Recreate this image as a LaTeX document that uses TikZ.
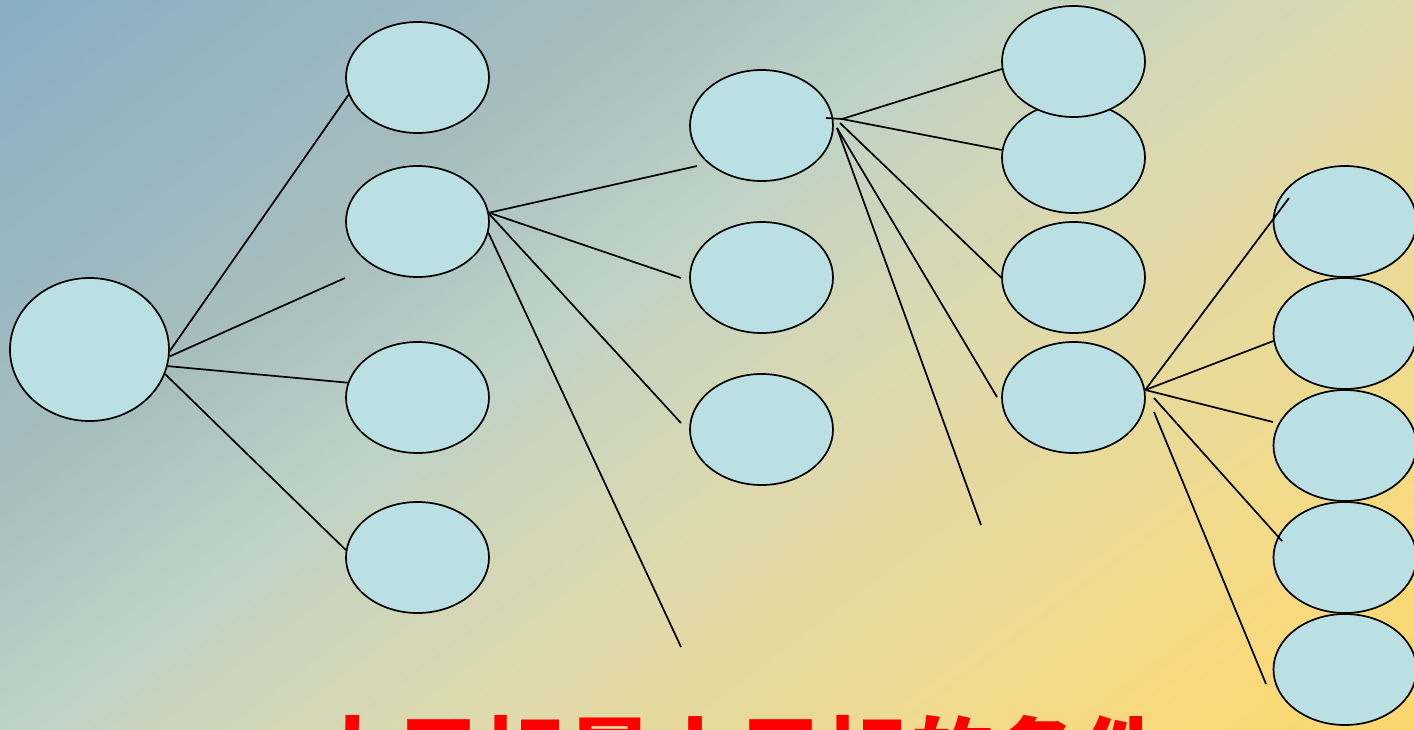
\documentclass[tikz,border=0pt]{standalone}
\usepackage{fontspec}
\newfontfamily\cjk{Noto Sans CJK SC}
\usetikzlibrary{shapes.geometric}

% background gradient colours, from the upper left to the lower right
\definecolor{bgA}{RGB}{136,174,196}
\definecolor{bgB}{RGB}{167,190,191}
\definecolor{bgC}{RGB}{190,210,198}
\definecolor{bgD}{RGB}{221,217,175}
\definecolor{bgE}{RGB}{240,218,140}
\definecolor{bgF}{RGB}{249,217,122}
\definecolor{bgG}{RGB}{250,215,110}
\definecolor{goalfill}{RGB}{186,224,227}
\definecolor{titlered}{RGB}{255,0,0}

\pgfdeclarehorizontalshading{bgshade}{100bp}{%
  color(0bp)=(bgA); color(5.2bp)=(bgA); color(30.3bp)=(bgB);
  color(41.9bp)=(bgC); color(57.2bp)=(bgD); color(76.9bp)=(bgE);
  color(85.8bp)=(bgF); color(94.8bp)=(bgG); color(100bp)=(bgG)}

\tikzset{
  goal/.style={ellipse, draw=black, line width=1.7pt, fill=goalfill,
               inner sep=0pt, minimum width=143pt, minimum height=111pt},
  rootgoal/.style={goal, minimum width=159pt, minimum height=143pt},
  link/.style={line width=1.7pt, draw=black},
}

\begin{document}
\begin{tikzpicture}[x=1pt, y=-1pt]
\useasboundingbox (0,0) rectangle (1414,729);
\begin{scope}
\clip (0,0) rectangle (1414,729);
% background: a diagonal gradient, placed at its natural size and turned
\node[inner sep=0pt, outer sep=0pt, transform shape, rotate=-53, scale=15.94]
  (bg) at (707,364.5) {\pgfuseshading{bgshade}};

% goal tree
\node[rootgoal] (r)  at (89.5,349.5) {};

\node[goal] (a1) at (417.5,77.5)  {};
\node[goal] (a2) at (417.5,221.5) {};
\node[goal] (a3) at (417.5,397.5) {};
\node[goal] (a4) at (417.5,557.5) {};

\node[goal] (b1) at (761.5,125.5) {};
\node[goal] (b2) at (761.5,277.5) {};
\node[goal] (b3) at (761.5,429.5) {};

\node[goal] (c2) at (1073.5,157.5) {};
\node[goal] (c1) at (1073.5,61.5)  {};
\node[goal] (c3) at (1073.5,277.5) {};
\node[goal] (c4) at (1073.5,397.5) {};

\node[goal] (d1) at (1345,221.5) {};
\node[goal] (d2) at (1345,333.5) {};
\node[goal] (d3) at (1345,445.5) {};
\node[goal] (d4) at (1345,557.5) {};
\node[goal] (d5) at (1345,669.5) {};

% branch points and loose line ends
\coordinate (f1)  at (345,278);
\coordinate (f2)  at (697,166);
\coordinate (f3)  at (681,278);
\coordinate (f4)  at (681,423);
\coordinate (f5)  at (681,647);
\coordinate (s3)  at (826,118);
\coordinate (h3)  at (842,119);
\coordinate (h3b) at (840,123);
\coordinate (h3c) at (837,128);
\coordinate (f6)  at (997,397);
\coordinate (f7)  at (981,525);
\coordinate (f8)  at (1289,198);
\coordinate (f9)  at (1273,422);
\coordinate (h4b) at (1154,398);
\coordinate (f10) at (1282,541);
\coordinate (h4c) at (1154,412);
\coordinate (f11) at (1266,684);

% level 1
\draw[link] (r.-1)  -- (a1.194);
\draw[link] (r.-5)  -- (f1);
\draw[link] (r.-12) -- (a3.168);
\draw[link] (r.-18) -- (a4.174);

% level 2
\draw[link] (a2.7)  -- (f2);
\draw[link] (a2.7)  -- (f3);
\draw[link] (a2.6)  -- (f4);
\draw[link] (a2.-9) -- (f5);

% level 3
\draw[link] (s3) -- (h3);
\draw[link] (h3) -- (c1.186);
\draw[link] (h3) -- (c2.174);
\draw[link] (h3b) -- (c3.180);
\draw[link] (h3c) -- (f6);
\draw[link] (h3c) -- (f7);

% level 4
\draw[link] (c4.6) -- (f8);
\draw[link] (c4.6) -- (d2.186);
\draw[link] (c4.6) -- (f9);
\draw[link] (h4b) -- (f10);
\draw[link] (h4c) -- (f11);

% caption
\node[anchor=base, text=titlered, inner sep=0pt,
      font=\cjk\bfseries\fontsize{85.5}{100}\selectfont] (cap) at (738,788)
      {大目标是小目标的条件};
\end{scope}
\end{tikzpicture}
\end{document}
